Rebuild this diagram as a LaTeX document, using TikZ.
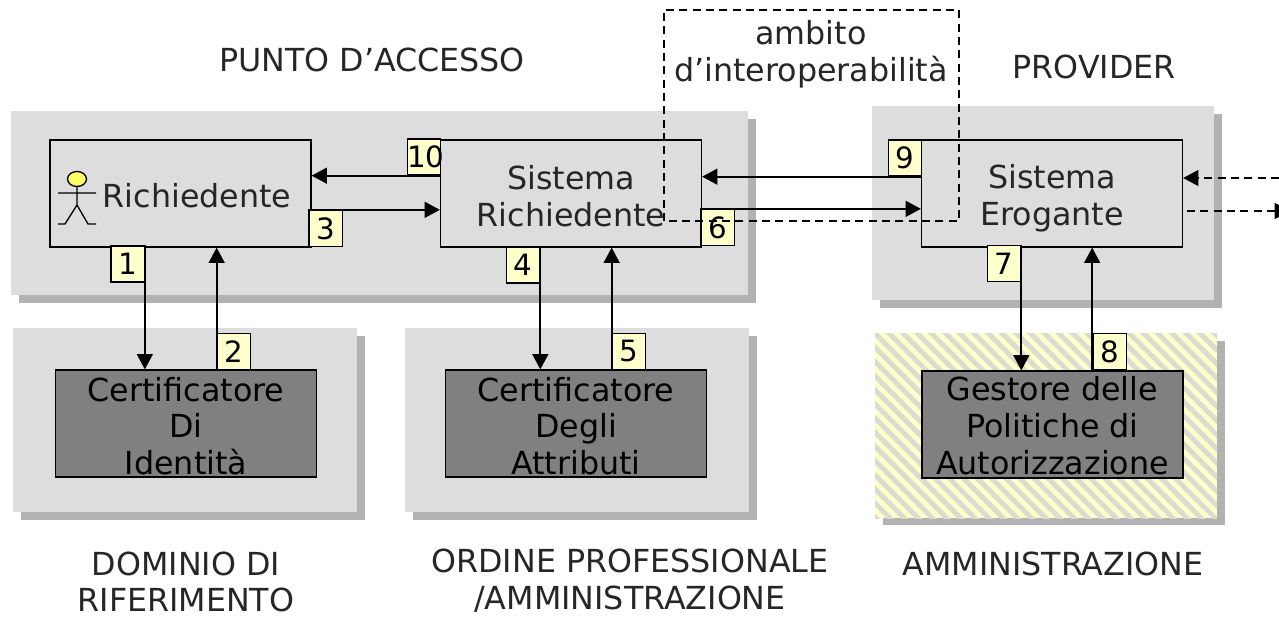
\documentclass[tikz,border=0pt]{standalone}
\usepackage{fontspec}
\setmainfont{DejaVu Sans}
\usetikzlibrary{arrows.meta,patterns.meta}
\definecolor{panelgray}{HTML}{DDDDDD}
\definecolor{shadowgray}{HTML}{B2B2B2}
\definecolor{darkbox}{HTML}{808080}
\definecolor{tagyellow}{HTML}{FFFFCC}
\definecolor{stripegray}{HTML}{DBDBD0}
\tikzset{
  lbl/.style={align=center,inner sep=0pt,text=black!85,font=\fontsize{23.8}{27.6}\selectfont},
  certlbl/.style={lbl,text=black},
  sysbox/.style={rectangle,draw,line width=1.2pt,minimum width=195.5pt,minimum height=80pt,inner sep=0pt},
  certbox/.style={sysbox,fill=darkbox},
  tagbox/.style={rectangle,draw,line width=1pt,fill=tagyellow,minimum width=25pt,minimum height=27pt,inner sep=0pt,font=\fontsize{22}{24}\selectfont},
  arr/.style={line width=1.3pt,-{Triangle[length=11.5pt,width=12pt]}},
  dasharr/.style={arr,line width=1pt,dash pattern=on 6pt off 4pt},
  scopeline/.style={line width=1pt,dash pattern=on 6pt off 4pt}
}
\begin{document}
\begin{tikzpicture}[x=0.75pt,y=-0.75pt]
  \useasboundingbox (0,0) rectangle (1279,618);
  \clip (0,0) rectangle (1279,618);
  % panels
  \fill[shadowgray] (19,119) rectangle (756,303);
  \fill[panelgray] (11,111) rectangle (748,295);
  \fill[shadowgray] (880,114) rectangle (1222,308);
  \fill[panelgray] (872,106) rectangle (1214,300);
  \fill[shadowgray] (21,336) rectangle (365,520);
  \fill[panelgray] (13,328) rectangle (357,512);
  \fill[shadowgray] (413,336) rectangle (757,520);
  \fill[panelgray] (405,328) rectangle (749,512);
  \fill[shadowgray] (883,341) rectangle (1225,525);
  \fill[tagyellow] (875,333) rectangle (1217,518);
  \fill[pattern={Lines[angle=-45,distance=7.5pt,line width=3.7pt]},pattern color=stripegray] (875,333) rectangle (1217,518);
  % boxes
  \node[sysbox] (ric) at(180.5,193.5) {};
  \node[sysbox] (sric) at(571,193.5) {};
  \node[sysbox] (sero) at(1052,193.5) {};
  \node[certbox] (cid) at(186,423.5) {};
  \node[certbox] (cat) at(576,423.5) {};
  \node[certbox] (gest) at(1052.5,424.5) {};
  \node[lbl] (ricl) at(197,196) {Richiedente};
  \node[lbl] (sricl) at(571,196) {Sistema\\Richiedente};
  \node[lbl] (serol) at(1052,198.5) {Sistema\\Erogante};
  \node[certlbl] (cidl) at(186,426) {Certificatore\\Di\\Identità};
  \node[certlbl] (catl) at(576,426) {Certificatore\\Degli\\Attributi};
  \node[certlbl] (gestl) at(1052.5,425.5) {Gestore delle\\Politiche di\\Autorizzazione};
  % actor
  \draw[line width=1pt,fill=tagyellow!50!yellow] (77,179) ellipse (9.5 and 7.5);
  \draw[line width=1pt] (77,186.5) -- (77,205) (58,193) -- (96,193)
    (58,224) -- (65,224) -- (77,205) -- (88,224) -- (96,224);
  % tags
  \node[tagbox] (t1) at(127.5,264) {1};
  \node[tagbox] (t2) at(234,351.5) {2};
  \node[tagbox] (t3) at(325.5,228.5) {3};
  \node[tagbox] (t10) at(424,157) {\makebox[25pt][l]{10}};
  \node[tagbox] (t4) at(523,265) {4};
  \node[tagbox] (t5) at(629,351.5) {5};
  \node[tagbox] (t6) at(717.5,227.5) {6};
  \node[tagbox] (t9) at(905,158) {9};
  \node[tagbox] (t7) at(1004,263.5) {7};
  \node[tagbox] (t8) at(1109.5,351.5) {8};
  % connectors
  \draw[arr] (t1.north east) -- (t1.north east |- cid.north);
  \draw[arr] (t2.south west) -- (t2.south west |- ric.south);
  \draw[arr] (t10.south east) -- (t10.south east -| ric.east);
  \draw[arr] (t3.north west) -- (t3.north west -| sric.west);
  \draw[arr] (t4.north east) -- (t4.north east |- cat.north);
  \draw[arr] (t5.south west) -- (t5.south west |- sric.south);
  \draw[arr] (t9.south east) -- (t9.south east -| sric.east);
  \draw[arr] (t6.north west) -- (t6.north west -| sero.west);
  \draw[arr] (t7.north east) -- (t7.north east |- gest.north);
  \draw[arr] (t8.south west) -- (t8.south west |- sero.south);
  \coordinate (inend) at(1279,178);
  \coordinate (outend) at(1290,211);
  \draw[dasharr] (inend) -- (inend -| sero.east);
  \draw[dasharr,shorten <=3pt] (outend -| sero.east) -- (outend);
  % interoperability scope
  \node[rectangle] (scope) at(811.5,115.5) [minimum width=221pt,minimum height=158pt,inner sep=0pt] {};
  \draw[scopeline] (scope.south west) rectangle (scope.north east);
  % labels
  \node[lbl] (ambl) at(811,54) {ambito\\d’interoperabilità};
  \node[lbl] (accl) at(372,60) {PUNTO D’ACCESSO};
  \node[lbl] (provl) at(1094,67) {PROVIDER};
  \node[lbl] (doml) at(186,582) {DOMINIO DI\\RIFERIMENTO};
  \node[lbl] (ordl) at(630,581) {ORDINE PROFESSIONALE\\/AMMINISTRAZIONE};
  \node[lbl] (ammal) at(1053,564) {AMMINISTRAZIONE};
\end{tikzpicture}
\end{document}
